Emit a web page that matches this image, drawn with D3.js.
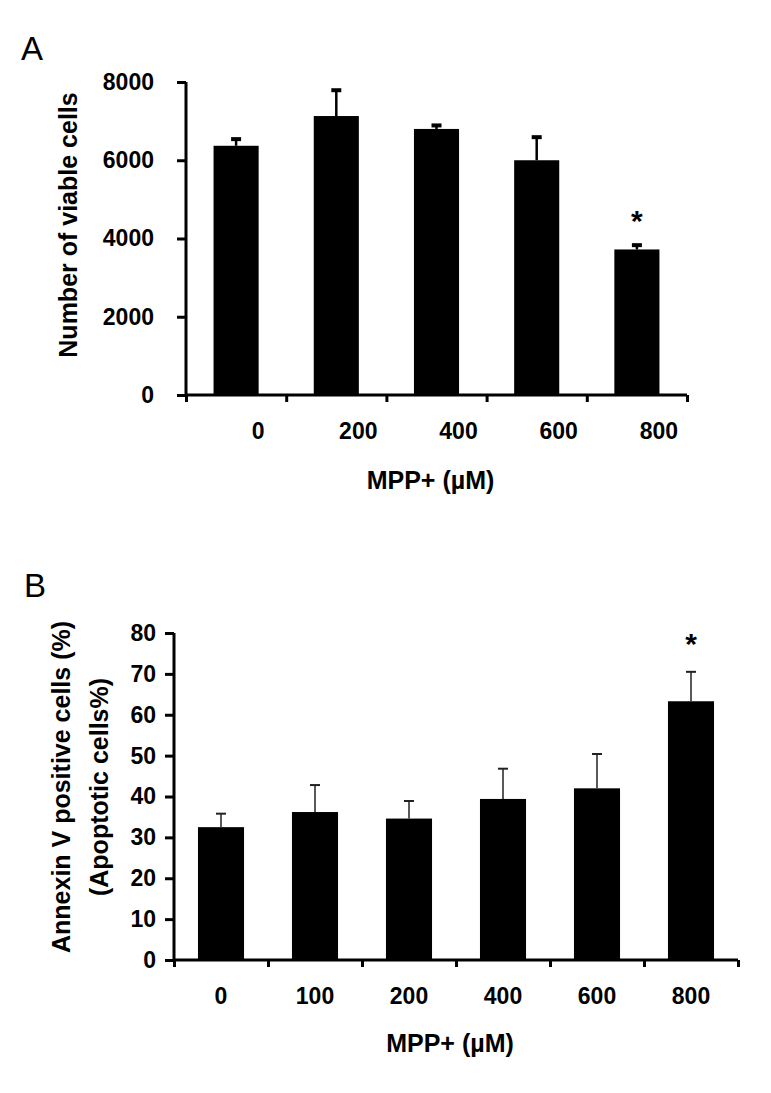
<!DOCTYPE html>
<html>
<head>
<meta charset="utf-8">
<script src="https://cdn.jsdelivr.net/npm/d3@7"></script>
<style>
  body { margin: 0; background: #fff; }
  svg text { font-family: "Liberation Sans", Arial, sans-serif; }
  .bold { font-weight: bold; }
</style>
</head>
<body>
<svg id="fig"></svg>
<script>
// panel A - viable cells
var concA = ["0", "200", "400", "600", "800"];
var viableMean = [6370, 7130, 6800, 6000, 3720];
var viableErr = [170, 660, 90, 590, 110];
var starA = [false, false, false, false, true];
var ticksA = [0, 2000, 4000, 6000, 8000];

// panel B - annexin V
var concB = ["0", "100", "200", "400", "600", "800"];
var annexinMean = [32.5, 36.2, 34.6, 39.4, 42.0, 63.3];
var annexinErr = [3.3, 6.6, 4.3, 7.4, 8.4, 7.2];
var starB = [false, false, false, false, false, true];
var ticksB = [0, 10, 20, 30, 40, 50, 60, 70, 80];

var svg = d3.select('#fig')
    .attr('width', 771)
    .attr('height', 1093);

function drawPanel(opt) {
    var g = svg.append('g');
    var n = opt.cats.length;

    var x = d3.scaleBand()
        .domain(opt.cats)
        .range([opt.left, opt.right])
        .paddingInner(opt.pad)
        .paddingOuter(opt.pad / 2);
    var y = d3.scaleLinear()
        .domain(opt.domain)
        .range([opt.bottom, opt.top]);

    // boundary ticks on x axis (between categories)
    var xb = d3.scaleLinear().domain([0, n]).range([opt.left, opt.right]);

    var rows = opt.cats.map(function(c, i) {
        return {cat: c, mean: opt.mean[i], err: opt.err[i], star: opt.star[i]};
    });

    g.selectAll('rect.bar')
        .data(rows)
        .enter().append('rect')
        .attr('class', 'bar')
        .attr('x', function(d) { return x(d.cat); })
        .attr('width', x.bandwidth())
        .attr('y', function(d) { return y(d.mean); })
        .attr('height', function(d) { return y(0) - y(d.mean); })
        .attr('fill', '#000');

    // error bars (upper only)
    var eb = g.selectAll('g.err')
        .data(rows)
        .enter().append('g')
        .attr('class', 'err')
        .attr('stroke', opt.errColor)
        .attr('stroke-width', opt.errWidth);
    eb.append('line')
        .attr('x1', function(d) { return x(d.cat) + x.bandwidth() / 2; })
        .attr('x2', function(d) { return x(d.cat) + x.bandwidth() / 2; })
        .attr('y1', function(d) { return y(d.mean); })
        .attr('y2', function(d) { return y(d.mean + d.err); });
    eb.append('line')
        .attr('x1', function(d) { return x(d.cat) + x.bandwidth() / 2 - 5; })
        .attr('x2', function(d) { return x(d.cat) + x.bandwidth() / 2 + 5; })
        .attr('y1', function(d) { return y(d.mean + d.err); })
        .attr('y2', function(d) { return y(d.mean + d.err); })
        .attr('stroke-width', opt.capWidth);

    // significance marks
    g.selectAll('text.star')
        .data(rows.filter(function(d) { return d.star; }))
        .enter().append('text')
        .attr('class', 'star bold')
        .attr('x', function(d) { return x(d.cat) + x.bandwidth() / 2; })
        .attr('y', function(d) { return y(d.mean + d.err) - opt.starGap; })
        .attr('text-anchor', 'middle')
        .attr('font-size', 30)
        .text('*');

    // y axis
    var yAxis = g.append('g')
        .attr('transform', 'translate(' + opt.left + ',0)')
        .call(d3.axisLeft(y).tickValues(opt.ticks).tickSize(9).tickPadding(opt.yPad).tickFormat(d3.format('d')));
    yAxis.select('.domain').attr('stroke-width', 3).attr('d', 'M0,' + opt.top + 'V' + opt.bottom);
    yAxis.selectAll('.tick line').attr('stroke-width', 3);
    yAxis.selectAll('.tick text')
        .attr('class', 'bold')
        .attr('font-size', opt.tickFont)
        .attr('fill', '#000');

    // x axis line with boundary ticks
    var xAxis = g.append('g')
        .attr('transform', 'translate(0,' + opt.bottom + ')')
        .call(d3.axisBottom(xb).tickValues(d3.range(n + 1)).tickSize(7).tickFormat(''));
    xAxis.select('.domain').attr('stroke-width', 3).attr('d', 'M' + opt.left + ',0H' + opt.right);
    xAxis.selectAll('.tick line').attr('stroke-width', 3);

    // category labels
    g.selectAll('text.cat')
        .data(rows)
        .enter().append('text')
        .attr('class', 'cat bold')
        .attr('x', function(d) { return x(d.cat) + x.bandwidth() / 2 + opt.labelDx; })
        .attr('y', opt.labelY)
        .attr('text-anchor', 'middle')
        .attr('font-size', opt.tickFont)
        .text(function(d) { return d.cat; });

    g.append('text')
        .attr('class', 'bold')
        .attr('x', (opt.left + opt.right) / 2 + opt.titleDx)
        .attr('y', opt.titleY)
        .attr('text-anchor', 'middle')
        .attr('font-size', 25)
        .text('MPP+ (\u00b5M)');

    // y title (one or two lines)
    opt.yTitle.forEach(function(t, i) {
        g.append('text')
            .attr('class', 'bold')
            .attr('transform', 'translate(' + opt.yTitleX[i] + ',' + opt.yTitleY + ') rotate(-90)')
            .attr('text-anchor', 'middle')
            .attr('font-size', 25)
            .text(t);
    });

    svg.append('text')
        .attr('x', opt.panelX)
        .attr('y', opt.panelY)
        .attr('font-size', 33)
        .text(opt.panel);
}

drawPanel({
    panel: 'A', panelX: 21, panelY: 60,
    cats: concA, mean: viableMean, err: viableErr, star: starA,
    domain: [0, 8000], ticks: ticksA,
    left: 186, right: 687, top: 82, bottom: 395, pad: 0.55,
    errColor: '#000', errWidth: 2.5, capWidth: 4, starGap: 14,
    tickFont: 23, yPad: 23,
    labelDx: 22, labelY: 439,
    titleDx: -6, titleY: 489,
    yTitle: ['Number of viable cells'], yTitleX: [77], yTitleY: 225
});

drawPanel({
    panel: 'B', panelX: 24, panelY: 597,
    cats: concB, mean: annexinMean, err: annexinErr, star: starB,
    domain: [0, 80], ticks: ticksB,
    left: 174, right: 738, top: 633, bottom: 960, pad: 0.51,
    errColor: '#222', errWidth: 1.5, capWidth: 2, starGap: 18,
    tickFont: 23, yPad: 9,
    labelDx: 0, labelY: 1004,
    titleDx: -6, titleY: 1052,
    yTitle: ['Annexin V positive cells (%)', '(Apoptotic cells%)'], yTitleX: [70, 108], yTitleY: 787
});
</script>
</body>
</html>
